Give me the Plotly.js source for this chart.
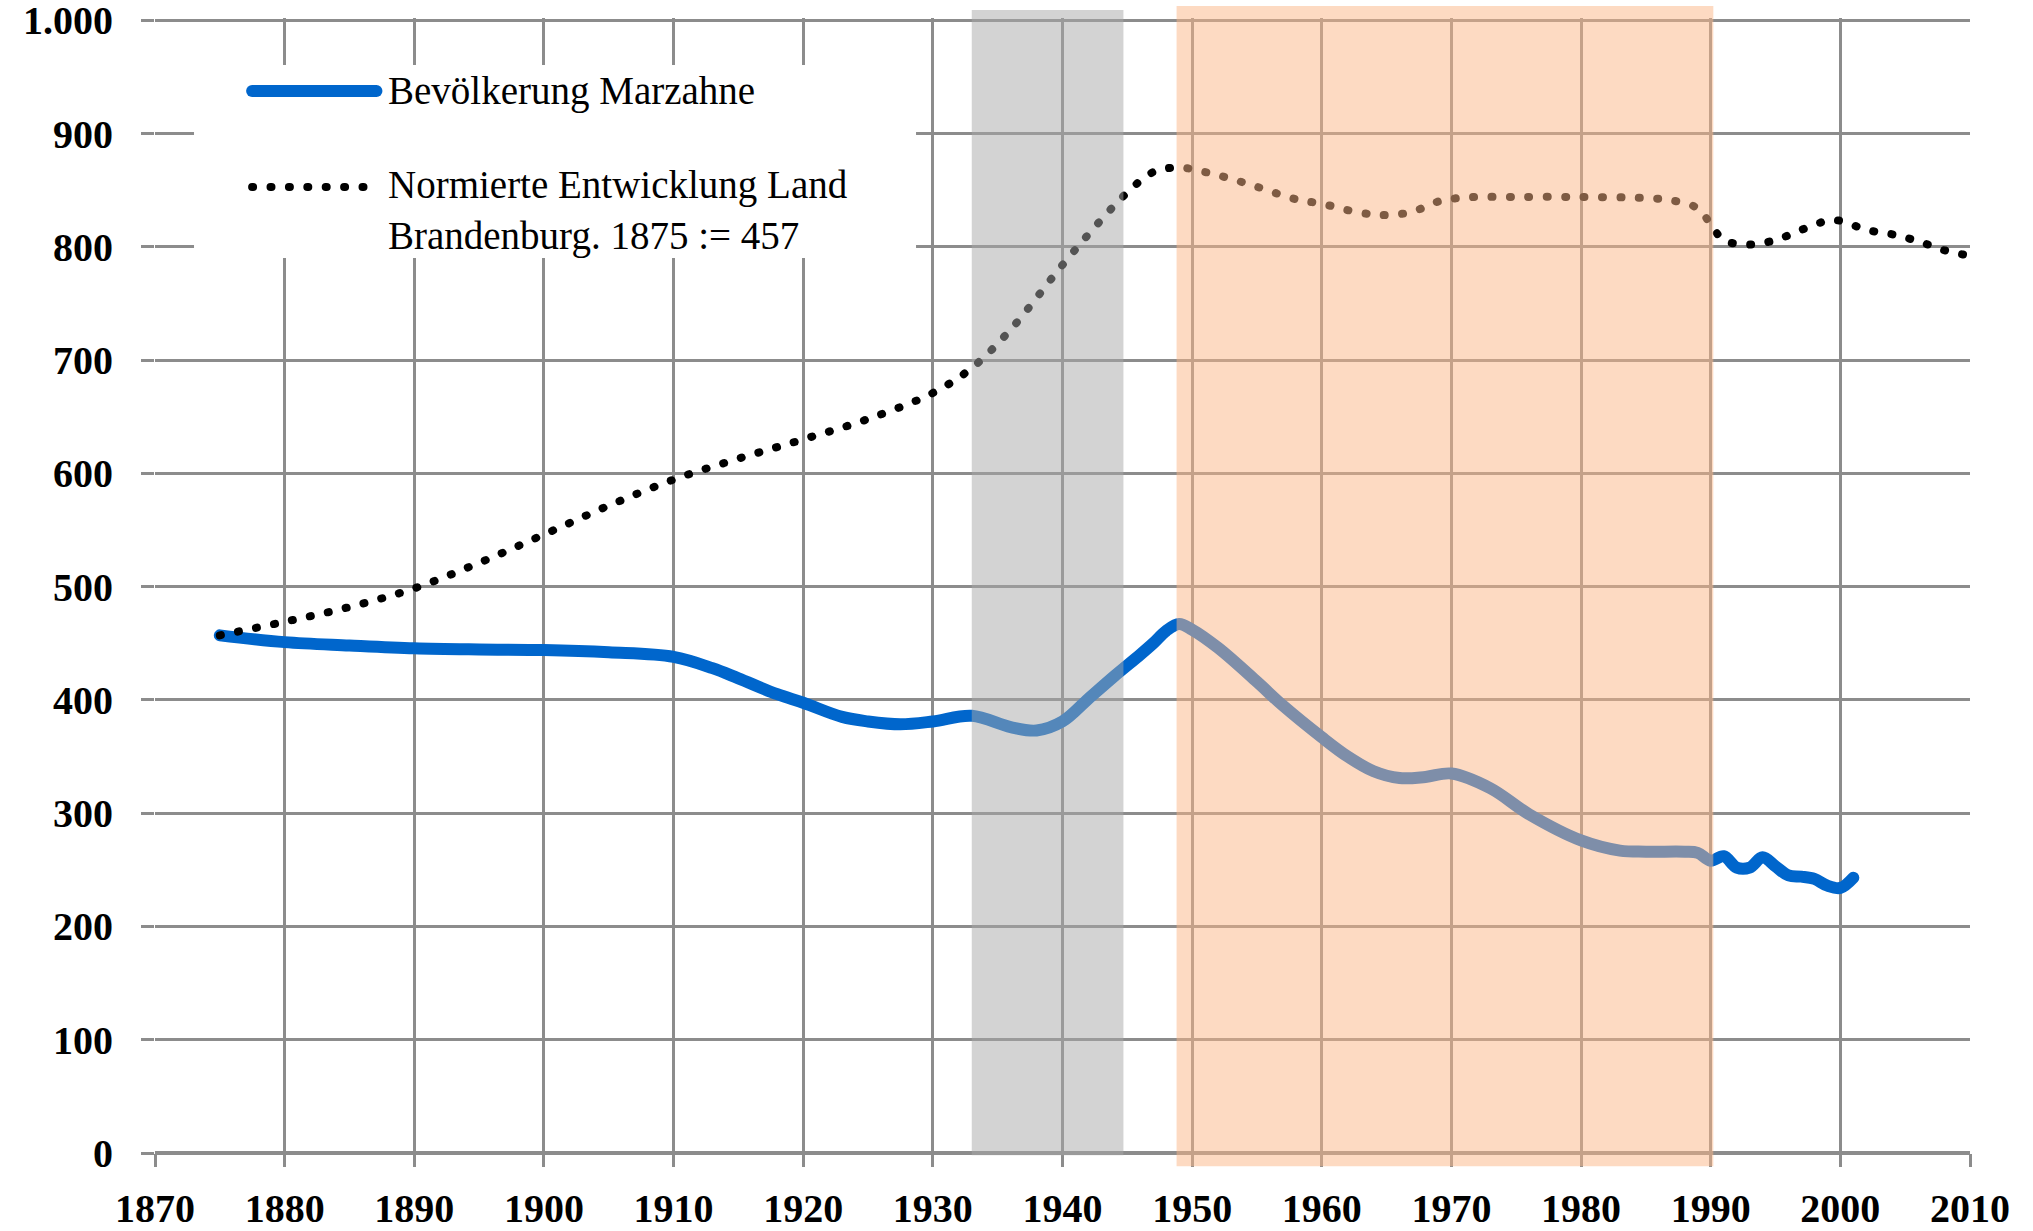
<!DOCTYPE html>
<html>
<head>
<meta charset="utf-8">
<script src="https://cdn.plot.ly/plotly-3.0.1.min.js"></script>
<style>
  html, body { margin: 0; padding: 0; background: #ffffff; }
  #chart { width: 2033px; height: 1231px; }
  .js-line { stroke-linecap: round; stroke-linejoin: round; }
  .shapelayer path { stroke-linecap: round; }
</style>
</head>
<body>
<div id="chart"></div>
<script>
// ---- data ----
const seriesNames = ['Bevölkerung Marzahne', 'Normierte Entwicklung Land<br>Brandenburg. 1875 := 457'];

const marzahneYears = [1875, 1880, 1885, 1890, 1895, 1900, 1905, 1910, 1913, 1915, 1918, 1920, 1923, 1925, 1927.5, 1930, 1933, 1936, 1938, 1940, 1942, 1944, 1946, 1947, 1948, 1949, 1950, 1952, 1955, 1957, 1960, 1962, 1964, 1966, 1968, 1970, 1973, 1976, 1980, 1983, 1985, 1988, 1989, 1990, 1991, 1992, 1993, 1994, 1995, 1996, 1997, 1998, 1999, 2000, 2001];
const marzahneValues = [457, 451, 448, 445.5, 444.5, 444, 442, 438, 428, 419, 405, 397.5, 385, 381, 378.5, 381, 386, 376, 373, 381, 401, 421, 440, 450, 461, 467, 462, 446, 416, 395, 367, 350, 337, 331, 332, 335, 322, 299, 276, 267, 266, 266, 265, 258, 262, 252, 252, 261, 253, 245, 244, 242, 236, 234, 243];

const brandenburgYears = [1875, 1880, 1885, 1890, 1895, 1900, 1905, 1910, 1915, 1920, 1925, 1930, 1933, 1936, 1940, 1943, 1945, 1947, 1949, 1951, 1953, 1955, 1958, 1960, 1963, 1965, 1967, 1969, 1971, 1975, 1980, 1985, 1987, 1989, 1990, 1991, 1993, 1995, 1997, 1999, 2000, 2002, 2004, 2006, 2008, 2010];
const brandenburgValues = [457, 469, 482, 498.5, 521, 546, 571.5, 594.5, 613, 630, 648, 671, 693, 727, 784, 824, 848, 866, 870, 866, 860, 853, 842, 838, 830, 828, 831, 840, 843.5, 844, 844, 843, 841, 834, 820, 806, 802, 806, 815, 823, 823, 815, 811, 805, 797, 792];

// shaded periods (as drawn in the picture)
const periodStarts = [1933, 1948.8];
const periodEnds = [1944.7, 1990.2];

// axis ticks
const xTickVals = [1870, 1880, 1890, 1900, 1910, 1920, 1930, 1940, 1950, 1960, 1970, 1980, 1990, 2000, 2010];
const yTickVals = [0, 100, 200, 300, 400, 500, 600, 700, 800, 900, 1000];
const yTickLabels = ['0', '100', '200', '300', '400', '500', '600', '700', '800', '900', '1.000'];

const chartTitle = 'Bevölkerungsentwicklung Marzahne (Havelland, Brandenburg)';

// ---- styles ----
const blue = '#0066cc';
const grid = '#8c8c8c';
const serif = 'Liberation Serif, DejaVu Serif, serif';

const traces = [
  {
    x: marzahneYears, y: marzahneValues, type: 'scatter', mode: 'lines',
    name: seriesNames[0], showlegend: false, hoverinfo: 'skip',
    line: { color: blue, width: 12, shape: 'spline', smoothing: 1.0 }
  },
  {
    x: brandenburgYears, y: brandenburgValues, type: 'scatter', mode: 'lines',
    name: seriesNames[1], showlegend: false, hoverinfo: 'skip',
    line: { color: '#000000', width: 8, dash: '1px,17.4px', shape: 'spline', smoothing: 1.0 }
  }
];

const shapes = [
  // legend background
  { type: 'rect', xref: 'paper', yref: 'paper', x0: 0.0215, x1: 0.4193, y0: 0.7885, y1: 0.9586,
    fillcolor: '#ffffff', line: { width: 0 }, layer: 'above' },
  // legend samples
  { type: 'line', xref: 'paper', yref: 'paper', x0: 0.0535, x1: 0.1220, y0: 0.9357, y1: 0.9357,
    line: { color: blue, width: 12 }, layer: 'above' },
  { type: 'line', xref: 'paper', yref: 'paper', x0: 0.0535, x1: 0.1220, y0: 0.8511, y1: 0.8511,
    line: { color: '#000000', width: 8, dash: '1px,17.4px' }, layer: 'above' },
  // periods
  { type: 'rect', xref: 'x', yref: 'paper', x0: periodStarts[0], x1: periodEnds[0], y0: -0.002, y1: 1.007,
    fillcolor: 'rgb(167,167,167)', opacity: 0.5, line: { width: 0 }, layer: 'above' },
  { type: 'rect', xref: 'x', yref: 'paper', x0: periodStarts[1], x1: periodEnds[1], y0: -0.0117, y1: 1.0106,
    fillcolor: 'rgb(251,181,134)', opacity: 0.5, line: { width: 0 }, layer: 'above' }
];

const annotations = [
  // title (mostly above the top edge of the picture)
  { xref: 'paper', yref: 'paper', x: 0.46, y: 1.0152, xanchor: 'right', yanchor: 'bottom',
    text: chartTitle, showarrow: false,
    font: { family: serif, size: 40, color: '#000000' } },
  { xref: 'paper', yref: 'paper', x: 0.1270, y: 0.9357, xanchor: 'left', yanchor: 'middle',
    text: seriesNames[0], showarrow: false, align: 'left',
    font: { family: serif, size: 39, color: '#000000' } },
  { xref: 'paper', yref: 'paper', x: 0.1270, y: 0.8303, xanchor: 'left', yanchor: 'middle',
    text: seriesNames[1], showarrow: false, align: 'left',
    font: { family: serif, size: 39, color: '#000000' } }
];

const layout = {
  width: 2033, height: 1231,
  paper_bgcolor: '#ffffff', plot_bgcolor: '#ffffff',
  margin: { l: 155, r: 63, t: 18, b: 78, pad: 0 },
  showlegend: false,
  xaxis: {
    range: [1870, 2010], tickmode: 'array', tickvals: xTickVals,
    showgrid: true, gridcolor: grid, gridwidth: 3,
    zeroline: false, showline: false,
    ticks: 'outside', ticklen: 13, tickwidth: 3, tickcolor: grid,
    ticklabelstandoff: 7, ticklabeloverflow: 'allow',
    tickfont: { family: serif, size: 40, color: '#000000', weight: 'bold' },
    fixedrange: true
  },
  yaxis: {
    range: [0, 1002], tickmode: 'array', tickvals: yTickVals, ticktext: yTickLabels,
    showgrid: true, gridcolor: grid, gridwidth: 3,
    zeroline: true, zerolinecolor: grid, zerolinewidth: 4,
    showline: false,
    ticks: 'outside', ticklen: 13, tickwidth: 3, tickcolor: grid,
    ticklabelstandoff: 20, ticklabeloverflow: 'allow',
    tickfont: { family: serif, size: 40, color: '#000000', weight: 'bold' },
    fixedrange: true
  },
  shapes: shapes,
  annotations: annotations
};

Plotly.newPlot('chart', traces, layout, { staticPlot: true, displayModeBar: false });
</script>
</body>
</html>
